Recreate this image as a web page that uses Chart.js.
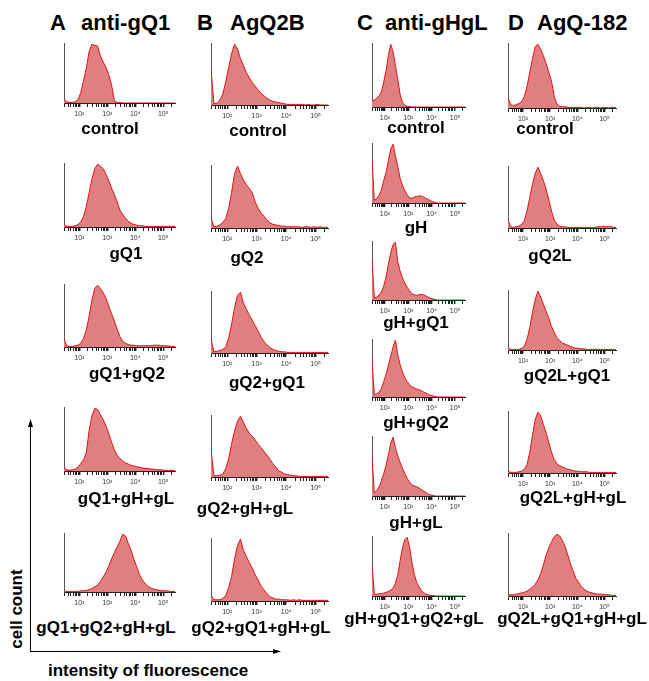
<!DOCTYPE html>
<html>
<head>
<meta charset="utf-8">
<script src="https://cdn.jsdelivr.net/npm/chart.js@4.4.0/dist/chart.umd.min.js"></script>
<style>
body { margin: 0; background: #fff; }
#fig { position: relative; width: 649px; height: 681px; overflow: hidden; background: #fff;
       font-family: "Liberation Sans", Arial, sans-serif; font-weight: bold; color: #000; }
#fig canvas { position: absolute; }
.lbl { position: absolute; font-size: 17px; line-height: 1; white-space: nowrap; transform: translate(-50%, -50%); }
.hdr { position: absolute; font-size: 22px; line-height: 1; white-space: nowrap; top: 12px; }
#cellcount { position: absolute; font-size: 17px; line-height: 1; white-space: nowrap;
             left: 16px; top: 609px; transform: translate(-50%, -50%) rotate(-90deg); }
#intensity { position: absolute; font-size: 17px; line-height: 1; white-space: nowrap; left: 48px; top: 662px; }
</style>
</head>
<body>
<div id="fig">
  <div class="hdr" style="left:50px">A</div><div class="hdr" style="left:81px">anti-gQ1</div>
  <div class="hdr" style="left:197px">B</div><div class="hdr" style="left:230px">AgQ2B</div>
  <div class="hdr" style="left:357px">C</div><div class="hdr" style="left:385px">anti-gHgL</div>
  <div class="hdr" style="left:508px">D</div><div class="hdr" style="left:537px">AgQ-182</div>
  <svg width="649" height="681" style="position:absolute;left:0;top:0">
    <line x1="30.5" y1="652" x2="30.5" y2="426" stroke="#000" stroke-width="1"/>
    <polygon points="30.5,419 28,427 33,427" fill="#000"/>
    <line x1="30" y1="651.5" x2="274" y2="651.5" stroke="#000" stroke-width="1"/>
    <polygon points="281,651.5 273,649 273,654" fill="#000"/>
  </svg>
  <div id="cellcount">cell count</div>
  <div id="intensity">intensity of fluorescence</div>
</div>
<script>
// log10 fluorescence bin centres
const bins = [1.45, 1.55, 1.65, 1.75, 1.85, 1.95, 2.05, 2.15, 2.25, 2.35,
              2.45, 2.55, 2.65, 2.75, 2.85, 2.95, 3.05, 3.15, 3.25, 3.35,
              3.45, 3.55, 3.65, 3.75, 3.85, 3.95, 4.05, 4.15, 4.25, 4.35,
              4.45, 4.55, 4.65, 4.75, 4.85, 4.95, 5.05, 5.15, 5.25, 5.35, 5.45];
const tickExps = [2, 3, 4, 5];
const tickLabels = ['10²', '10³', '10⁴', '10⁵'];

// column A anti-gQ1
const aControl = [6,2,1,1,2,5,18,38,60,88, 100,98,97,80,70,61,48,31,4,1, 1,0,0,0,0,0,0,0,0,0, 0,0,0,0,0,0,0,0,0,0,0];
const aGQ1 = [4,1,1,1,2,4,8,17,33,55, 77,93,100,97,93,84,74,62,52,40, 27,20,14,9,6,4,3,2,2,1, 1,1,1,1,1,1,1,1,1,1,1];
const aGQ1GQ2 = [13,2,1,1,2,3,6,14,28,50, 76,95,100,95,88,79,66,54,42,29, 17,9,6,4,3,3,2,2,2,2, 2,2,3,3,3,2,2,2,1,1,1];
const aGQ1GHGL = [5,2,1,2,3,6,12,18,30,65, 88,100,98,90,82,72,60,46,34,25, 20,16,13,11,9,8,7,6,5,4, 4,3,3,2,2,2,1,1,1,1,0];
const aAll = [2,1,1,1,1,1,2,2,3,4, 6,9,12,18,26,34,45,57,68,78, 88,100,97,84,72,56,44,30,21,15, 10,7,5,4,3,2,2,2,1,1,1];
// column B AgQ2B
const bControl = [59,2,3,8,18,38,62,85,100,92, 76,65,53,45,37,31,25,19,15,11, 8,6,5,4,3,2,1,1,1,1, 1,1,0,1,0,0,1,0,0,0,0];
const bGQ2 = [16,2,3,5,9,15,32,58,88,100, 88,78,70,64,57,42,32,24,19,13, 8,6,5,4,3,3,2,2,2,2, 2,1,2,2,1,2,1,2,1,1,1];
const bGQ2GQ1 = [23,2,3,4,6,10,25,48,75,95, 100,82,72,62,54,45,36,26,19,13, 9,6,4,3,2,2,1,1,1,1, 1,1,1,1,1,1,1,1,1,1,1];
const bGQ2GHGL = [44,2,2,3,5,14,30,55,76,92, 100,90,80,72,67,61,54,48,42,36, 29,22,16,10,8,5,4,3,2,2, 1,1,1,1,1,1,1,1,1,1,1];
const bAll = [10,2,2,2,4,9,22,40,68,90, 100,82,72,62,53,42,34,24,18,12, 7,5,3,3,2,2,2,1,2,1, 2,1,1,1,1,1,1,1,1,1,1];
// column C anti-gHgL
const cControl = [10,11,14,18,24,40,58,82,100,88, 66,44,20,7,3,1,1,0,0,0, 0,0,0,0,0,0,0,0,0,0, 0,0,0,0,0,0,0,0,0,0,0];
const cGH = [75,4,8,13,22,38,52,72,92,100, 80,62,42,30,21,14,9,8,10,11, 12,12,10,8,6,4,2,1,0,0, 0,0,0,0,0,0,0,0,0,0,0];
const cGHGQ1 = [70,3,5,8,14,24,40,62,82,96, 100,66,50,38,29,22,16,11,9,8, 9,10,9,7,5,3,2,1,0,0, 0,0,0,0,0,0,0,0,0,0,0];
const cGHGQ2 = [64,4,6,8,15,27,40,56,72,88, 100,74,57,44,34,27,22,18,16,14, 13,11,9,7,5,3,2,1,0,0, 0,0,0,0,0,0,0,0,0,0,0];
const cGHGL = [65,5,9,15,26,38,52,70,90,100, 82,68,57,47,38,30,24,19,17,16, 14,11,9,6,3,2,1,0,0,0, 0,0,0,0,0,0,0,0,0,0,0];
const cAll = [53,3,3,4,4,5,6,8,10,14, 22,36,60,82,96,100,84,58,38,24, 16,9,6,3,2,1,1,0,0,0, 0,0,0,0,0,0,0,0,0,0,0];
// column D AgQ-182
const dControl = [16,5,4,5,7,10,18,34,56,78, 96,100,92,82,70,56,42,18,6,3, 2,2,1,1,1,1,1,1,0,1, 1,0,1,1,0,1,1,0,1,1,0];
const dGQ2L = [13,2,1,2,3,6,12,28,50,72, 90,100,90,78,64,46,28,13,6,3, 2,2,1,1,1,1,1,1,1,1, 1,1,1,2,2,3,2,3,2,1,1];
const dGQ2LGQ1 = [4,1,1,1,1,3,6,18,38,64, 86,100,90,78,66,54,40,30,21,16, 12,10,8,6,4,3,3,2,2,1, 1,1,1,1,1,1,1,1,1,1,0];
const dGQ2LGHGL = [3,1,1,1,2,3,6,14,34,62, 88,100,94,80,66,50,34,22,15,12, 10,8,6,5,4,3,3,2,2,2, 1,1,1,1,1,1,1,1,1,1,0];
const dAll = [2,2,2,3,4,5,6,8,11,14, 19,26,36,50,66,78,88,96,100,97, 90,80,66,52,40,28,22,15,11,8, 6,5,4,3,3,3,2,2,1,1,1];

const labelsA = ['control', 'gQ1', 'gQ1+gQ2', 'gQ1+gH+gL', 'gQ1+gQ2+gH+gL'];
const labelsB = ['control', 'gQ2', 'gQ2+gQ1', 'gQ2+gH+gL', 'gQ2+gQ1+gH+gL'];
const labelsC = ['control', 'gH', 'gH+gQ1', 'gH+gQ2', 'gH+gL', 'gH+gQ1+gQ2+gL'];
const labelsD = ['control', 'gQ2L', 'gQ2L+gQ1', 'gQ2L+gH+gL', 'gQ2L+gQ1+gH+gL'];

const seriesA = [aControl, aGQ1, aGQ1GQ2, aGQ1GHGL, aAll];
const seriesB = [bControl, bGQ2, bGQ2GQ1, bGQ2GHGL, bAll];
const seriesC = [cControl, cGH, cGHGQ1, cGHGQ2, cGHGL, cAll];
const seriesD = [dControl, dGQ2L, dGQ2LGQ1, dGQ2LGHGL, dAll];

// layout: axis x, plot width, [top, baseline] per row, [label x, label y] per row
const columns = [
  { x: 64, w: 111, series: seriesA, labels: labelsA,
    rows: [[43,103],[163,227],[284,347],[407,471],[533,592]],
    lpos: [[110,128],[126,253],[127,373],[126,498],[106,627]] },
  { x: 211, w: 117, series: seriesB, labels: labelsB,
    rows: [[43,105],[165,228],[291,353],[415,477],[538,601]],
    lpos: [[258,130],[247,257],[267,382],[245,508],[261,627]] },
  { x: 372, w: 93, series: seriesC, labels: labelsC,
    rows: [[43,107],[143,203],[241,300],[339,397],[436,496],[536,596]],
    lpos: [[416,127],[416,227],[416,322],[416,422],[416,522],[414,618]] },
  { x: 508, w: 108, series: seriesD, labels: labelsD,
    rows: [[43,108],[166,228],[290,350],[411,473],[533,596]],
    lpos: [[545,128],[550,255],[567,375],[573,497],[572,618]] }
];

const X_MIN = 1.45, X_MAX = 5.42;
const PAD_L = 4, PAD_R = 8, PAD_T = 2, AXIS_H = 16;

const tickVals = [];
for (let e = 1; e <= 5; e++) {
  for (let m = 1; m <= 9; m++) {
    const v = Math.log10(m * Math.pow(10, e));
    if (v >= X_MIN && v <= X_MAX) tickVals.push(v);
  }
}

const fig = document.getElementById('fig');

function drawPanel(col, i) {
  const [top, base] = col.rows[i];
  const plotH = base - top;
  const W = PAD_L + col.w + PAD_R, H = PAD_T + plotH + AXIS_H;
  const cv = document.createElement('canvas');
  cv.width = W; cv.height = H;
  cv.style.left = (col.x - PAD_L) + 'px';
  cv.style.top = (top - PAD_T) + 'px';
  cv.style.width = W + 'px';
  cv.style.height = H + 'px';
  fig.appendChild(cv);

  const vals = col.series[i];
  new Chart(cv, {
    type: 'line',
    data: {
      datasets: [{
        data: bins.map((b, k) => ({ x: b, y: vals[k] })),
        borderColor: '#dd1414',
        backgroundColor: '#e07f7f',
        borderWidth: 1,
        fill: 'origin',
        pointRadius: 0,
        tension: 0
      }]
    },
    options: {
      responsive: false,
      animation: false,
      devicePixelRatio: 1,
      layout: { padding: { left: PAD_L, right: PAD_R, top: PAD_T, bottom: 0 } },
      plugins: { legend: { display: false }, tooltip: { enabled: false } },
      scales: {
        x: {
          type: 'linear', min: X_MIN, max: X_MAX,
          afterBuildTicks: s => { s.ticks = tickVals.map(v => ({ value: v })); },
          afterFit: s => { s.height = AXIS_H; },
          grid: {
            display: true, drawOnChartArea: false, drawTicks: true, tickLength: 4,
            color: '#222',
            lineWidth: ctx => (tickExps.some(e => Math.abs(e - ctx.tick.value) < 1e-6) ? 1.4 : 1)
          },
          border: { display: true, color: '#222', width: 1 },
          ticks: {
            autoSkip: false, maxRotation: 0, padding: 3, color: '#333',
            font: { size: 7, family: '"Liberation Sans", Arial, sans-serif' },
            callback: v => {
              const k = tickExps.findIndex(e => Math.abs(e - v) < 1e-6);
              return k >= 0 ? tickLabels[k] : '';
            }
          }
        },
        y: {
          min: 0, max: 102,
          afterFit: s => { s.width = 0; },
          ticks: { display: false },
          grid: { display: false },
          border: { display: true, color: '#555', width: 1 }
        }
      }
    }
  });

  const lb = document.createElement('div');
  lb.className = 'lbl';
  lb.textContent = col.labels[i];
  lb.style.left = col.lpos[i][0] + 'px';
  lb.style.top = col.lpos[i][1] + 'px';
  fig.appendChild(lb);
}

columns.forEach(col => col.rows.forEach((r, i) => drawPanel(col, i)));
</script>
</body>
</html>
